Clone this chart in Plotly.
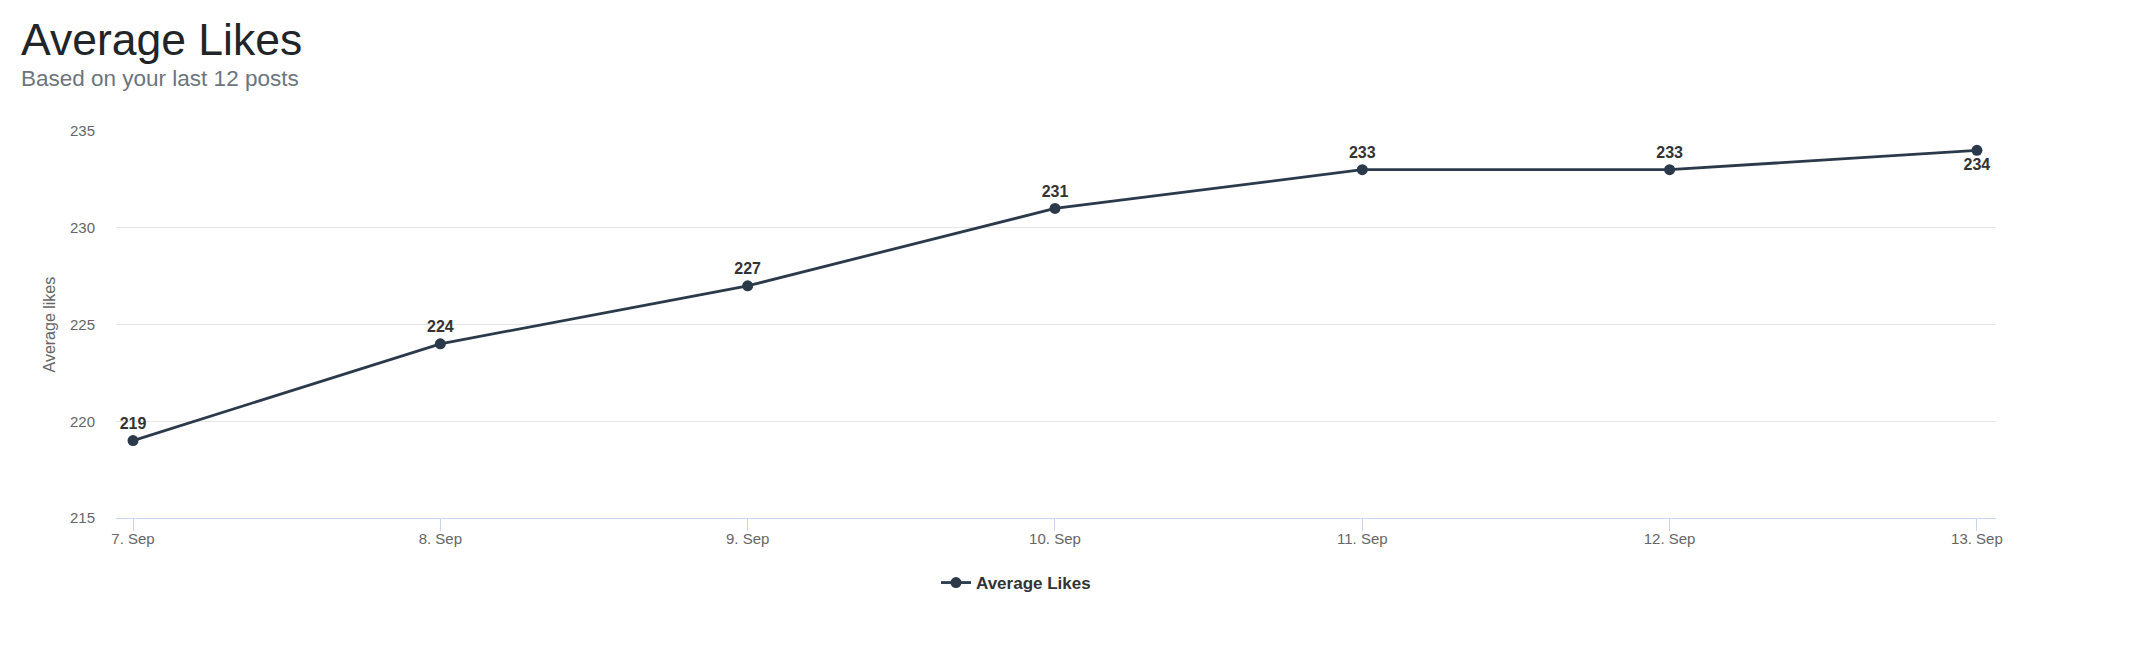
import plotly.graph_objects as go
import pandas as pd

dates = ["2023-09-07", "2023-09-08", "2023-09-09", "2023-09-10", "2023-09-11", "2023-09-12", "2023-09-13"]
likes = [219, 224, 227, 231, 233, 233, 234]
label_pos = ["top center"] * 6 + ["bottom center"]
y_ticks = [215, 220, 225, 230, 235]

W, H = 2140, 654
OFF = 8  # page body margin
L, R, T, B = 116 - OFF, 144 + OFF, 131 - OFF, 136 + OFF
FONT = "Liberation Sans, Arial, sans-serif"
LINE = "#2b3a4b"

d = pd.to_datetime(dates)
x_range = [d[0] - pd.Timedelta(hours=1.33), d[-1] + pd.Timedelta(hours=1.49)]

fig = go.Figure()
fig.add_trace(go.Scatter(
    x=d, y=likes, name="Average Likes",
    mode="lines+markers+text",
    text=[str(v) for v in likes], textposition=label_pos,
    textfont=dict(family=FONT, size=16, color="#333333", weight="bold"),
    line=dict(color=LINE, width=2.8),
    marker=dict(color=LINE, size=11),
    hoverinfo="x+y",
))

ph = H - T - B
pw = W - L - R
fig.update_layout(
    width=W, height=H,
    margin=dict(l=L, r=R, t=T, b=B),
    paper_bgcolor="white", plot_bgcolor="white",
    font=dict(family=FONT, color="#666666"),
    showlegend=True,
    legend=dict(orientation="h", xref="container", yref="container",
                x=(1016 - OFF) / W, y=1 - (583 - OFF) / H, xanchor="center", yanchor="middle",
                font=dict(family=FONT, size=17, color="#333333", weight="bold"),
                itemwidth=30),
    xaxis=dict(type="date", range=x_range, tickvals=d, tickformat="%-d. %b",
               showgrid=False, showline=True, linecolor="#ccd6eb", linewidth=1,
               ticks="outside", ticklen=12, tickcolor="#ccd6eb", ticklabelstandoff=-5,
               tickfont=dict(family=FONT, size=15, color="#666666"), zeroline=False),
    yaxis=dict(range=[215, 235], tickvals=y_ticks, showgrid=True, gridcolor="#e6e6e6",
               gridwidth=1, zeroline=False, showline=False, ticks="",
               ticklabelstandoff=20,
               tickfont=dict(family=FONT, size=15, color="#666666")),
    annotations=[
        dict(text="Average Likes", xref="paper", yref="paper",
             x=(19 - 116) / pw, y=(H - 136 - 39) / ph, xanchor="left", yanchor="middle",
             showarrow=False, font=dict(family=FONT, size=44.5, color="#212529")),
        dict(text="Based on your last 12 posts", xref="paper", yref="paper",
             x=(19 - 116) / pw, y=(H - 136 - 78) / ph, xanchor="left", yanchor="middle",
             showarrow=False, font=dict(family=FONT, size=22.5, color="#6c757d")),
        dict(text="Average likes", xref="paper", yref="paper",
             x=(49 - 116) / pw, y=0.5, xanchor="center", yanchor="middle", textangle=-90,
             showarrow=False, font=dict(family=FONT, size=16, color="#666666")),
    ],
)
fig.write_html("out.html")
